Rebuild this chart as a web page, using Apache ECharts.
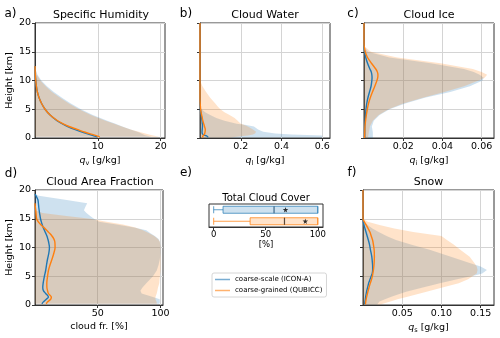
<!DOCTYPE html>
<html><head><meta charset="utf-8">
<script src="https://cdn.jsdelivr.net/npm/echarts@6/dist/echarts.min.js"></script>
<style>html,body{margin:0;padding:0;background:#fff}#c{width:500px;height:338px}</style>
</head><body><div id="c"></div>
<script>
// ---------- data ----------
const nameIcon = 'coarse-scale (ICON-A)';
const nameQub = 'coarse-grained (QUBICC)';
const titles = ['Specific Humidity', 'Cloud Water', 'Cloud Ice', 'Cloud Area Fraction', 'Snow'];
const letters = ['a)', 'b)', 'c)', 'd)', 'f)', 'e)'];

const heightTicks = [0, 5, 10, 15, 20];
const qvTicks = [10, 20];
const qlTicks = [0.2, 0.4, 0.6];
const qiTicks = [0.02, 0.04, 0.06];
const cfTicks = [50, 100];
const qsTicks = [0.05, 0.10, 0.15];
const tccTicks = [0, 50, 100];

// a) specific humidity [g/kg]
const qvHeight   = [0.2, 0.5, 1, 1.5, 2, 2.5, 3, 4, 5, 6, 7, 8, 9, 10, 11, 12, 12.5];
const qvMeanIcon = [9.9, 9.0, 7.6, 6.3, 5.2, 4.3, 3.5, 2.4, 1.6, 1.05, 0.65, 0.38, 0.22, 0.12, 0.05, 0.02, 0];
const qvMeanQub  = [10.3, 9.5, 8.0, 6.7, 5.4, 4.4, 3.6, 2.4, 1.6, 1.05, 0.65, 0.38, 0.22, 0.12, 0.05, 0.02, 0];
const qvMaxIcon  = [18.5, 17.5, 16.5, 15.2, 13.9, 12.8, 11.5, 9.2, 7.3, 5.7, 4.3, 3.0, 1.9, 1.0, 0.4, 0.08, 0];
const qvMaxQub   = [19.8, 18.6, 16.8, 15.2, 13.8, 12.6, 11.2, 8.9, 7.0, 5.4, 4.0, 2.7, 1.7, 0.85, 0.3, 0.05, 0];

// b) cloud water [g/kg]
const qlHeight   = [0.1, 0.3, 0.45, 0.6, 0.8, 1.1, 1.5, 2, 2.3, 2.5, 3, 3.5, 4, 4.5, 5, 5.5, 6, 7, 8, 9, 10, 11, 20];
const qlMeanIcon = [0.04, 0.035, 0.025, 0.015, 0.011, 0.01, 0.011, 0.012, 0.012, 0.011, 0.01, 0.008, 0.006, 0.004, 0.002, 0.001, 0.0005, 0, 0, 0, 0, 0, 0];
const qlMeanQub  = [0.012, 0.014, 0.016, 0.02, 0.023, 0.025, 0.026, 0.022, 0.02, 0.018, 0.014, 0.011, 0.008, 0.005, 0.003, 0.002, 0.001, 0, 0, 0, 0, 0, 0];
const qlMaxIcon  = [0.60, 0.60, 0.60, 0.45, 0.37, 0.31, 0.285, 0.265, 0.22, 0.18, 0.12, 0.08, 0.05, 0.025, 0.008, 0, 0, 0, 0, 0, 0, 0, 0];
const qlMaxQub   = [0.15, 0.2, 0.235, 0.26, 0.27, 0.275, 0.26, 0.235, 0.215, 0.2, 0.185, 0.17, 0.145, 0.12, 0.1, 0.087, 0.075, 0.05, 0.03, 0.012, 0, 0, 0];

// c) cloud ice [g/kg]
const qiHeight   = [0, 1, 2, 3, 4, 5, 6, 7, 8, 9, 10, 10.5, 11, 11.5, 12, 13, 14, 15, 16, 17, 20];
const qiMeanIcon = [0.0004, 0.0004, 0.0004, 0.0006, 0.0008, 0.001, 0.0014, 0.002, 0.0028, 0.0036, 0.004, 0.0041, 0.004, 0.0037, 0.003, 0.0018, 0.0009, 0.0003, 0, 0, 0];
const qiMeanQub  = [0.0003, 0.0004, 0.0005, 0.0008, 0.0012, 0.0017, 0.0023, 0.0032, 0.0043, 0.0055, 0.0066, 0.007, 0.0071, 0.0068, 0.006, 0.0038, 0.0018, 0.0006, 0.0001, 0, 0];
const qiMaxIcon  = [0.0045, 0.0045, 0.004, 0.005, 0.008, 0.013, 0.021, 0.031, 0.044, 0.054, 0.0605, 0.061, 0.059, 0.056, 0.051, 0.034, 0.013, 0.002, 0, 0, 0];
const qiMaxQub   = [0.002, 0.0025, 0.003, 0.0045, 0.0075, 0.0125, 0.02, 0.03, 0.041, 0.051, 0.0585, 0.0615, 0.0628, 0.06, 0.0555, 0.039, 0.017, 0.0035, 0, 0, 0];

// d) cloud area fraction [%]
const cfHeight   = [0.2, 0.5, 1, 1.4, 2, 2.5, 3, 3.8, 5, 6, 7, 8, 9, 10, 11, 11.5, 12, 12.5, 13, 13.5, 14, 14.5, 15, 15.5, 16, 16.5, 17, 17.7, 18.3, 19, 19.3];
const cfMeanIcon = [5.5, 6.5, 9, 10.7, 8.5, 6.7, 6.2, 6.5, 7.5, 8.5, 9.2, 10, 11, 11.5, 10.8, 10.2, 9.5, 8.5, 7.5, 6.5, 5.7, 5, 4.4, 4, 3.6, 3.3, 3, 2.7, 2.3, 0.8, 0];
const cfMeanQub  = [9, 9.8, 12.5, 13, 10.7, 10, 9.5, 9.4, 10, 10.7, 12, 13.6, 15, 16, 15.8, 15, 13.5, 11.5, 9.3, 7, 4.5, 2.5, 1.3, 1, 0.8, 0.6, 0.3, 0, null, null, null];
const cfMaxIcon  = [99, 99.5, 99.4, 94, 85, 84, 85.5, 88.7, 94, 97, 98.5, 99.5, 100, 100, 99.5, 98.5, 95.5, 92, 88.7, 79, 65, 51, 47, 44, 41, 39, 40, 41.6, 24, 3, 0];
const cfMaxQub   = [97, 97, 96, 96, 97, 97.5, 98, 99, 99.5, 100, 100, 100, 100, 100, 99.5, 98, 95, 91, 86, 80, 70, 57, 44, 25, 6, 0, 0, 0, 0, 0, 0];

// f) snow [g/kg]
const qsHeight   = [0.1, 0.6, 1, 1.5, 2.3, 3, 3.8, 4.5, 5.2, 5.5, 6.1, 6.7, 7.3, 8.4, 9.6, 10.5, 11.3, 12, 12.7, 13.3, 13.9, 14.5, 15, 20];
const qsMeanIcon = [0.002, 0.0025, 0.003, 0.0035, 0.0045, 0.0058, 0.0072, 0.009, 0.011, 0.0118, 0.0123, 0.0123, 0.012, 0.0112, 0.0095, 0.0083, 0.0068, 0.0053, 0.0038, 0.0025, 0.0013, 0.0004, 0, 0];
const qsMeanQub  = [0.003, 0.0035, 0.004, 0.0048, 0.0062, 0.0076, 0.0093, 0.011, 0.0122, 0.0126, 0.0133, 0.0138, 0.0142, 0.0145, 0.0142, 0.0133, 0.0122, 0.0105, 0.0088, 0.0065, 0.0042, 0.0015, 0, 0];
const qsMaxIcon  = [0.018, 0.021, 0.028, 0.037, 0.055, 0.075, 0.098, 0.12, 0.145, 0.152, 0.158, 0.15, 0.136, 0.112, 0.085, 0.062, 0.042, 0.03, 0.02, 0.012, 0.006, 0.002, 0, 0];
const qsMaxQub   = [0.022, 0.035, 0.044, 0.058, 0.081, 0.1, 0.122, 0.134, 0.142, 0.145, 0.146, 0.145, 0.142, 0.136, 0.124, 0.116, 0.107, 0.1, 0.064, 0.04, 0.021, 0.006, 0, 0];

// e) total cloud cover [%]: [min, q1, median, q3, max]
const tccCats = ['ICON-A', 'QUBICC'];
const tccIcon = [0, 9, 58, 100, 100];
const tccQub  = [0, 35, 68, 100, 100];
const tccMean = [69, 88];

// ---------- styling ----------
const FONT = 'DejaVu Sans';
const AX = '#333';
const GRIDC = '#d4d4d4';
const BLUE = '#1f77b4', ORANGE = '#ff7f0e';
const BLUE_F = 'rgba(31,119,180,0.22)', ORANGE_F = 'rgba(255,127,14,0.22)';

const panels = [
  {h: qvHeight, mi: qvMeanIcon, mq: qvMeanQub, xi: qvMaxIcon, xq: qvMaxQub, max: 20.68, iv: 10, ticks: qvTicks, dec: 0, name: '{q|q}{s|v} [g/kg]', grid: {left: 35, top: 23, width: 130, height: 115}, ylab: true},
  {h: qlHeight, mi: qlMeanIcon, mq: qlMeanQub, xi: qlMaxIcon, xq: qlMaxQub, max: 0.638, iv: 0.2, ticks: qlTicks, dec: 1, name: '{q|q}{s|l} [g/kg]', grid: {left: 200, top: 23, width: 130, height: 115}, ylab: false},
  {h: qiHeight, mi: qiMeanIcon, mq: qiMeanQub, xi: qiMaxIcon, xq: qiMaxQub, max: 0.0663, iv: 0.02, ticks: qiTicks, dec: 2, name: '{q|q}{s|i} [g/kg]', grid: {left: 364, top: 23, width: 130, height: 115}, ylab: false},
  {h: cfHeight, mi: cfMeanIcon, mq: cfMeanQub, xi: cfMaxIcon, xq: cfMaxQub, max: 102, iv: 50, ticks: cfTicks, dec: 0, name: 'cloud fr. [%]', grid: {left: 35, top: 190, width: 128, height: 115}, ylab: true},
  {h: qsHeight, mi: qsMeanIcon, mq: qsMeanQub, xi: qsMaxIcon, xq: qsMaxQub, max: 0.167, iv: 0.05, ticks: qsTicks, dec: 2, name: '{q|q}{s|s} [g/kg]', grid: {left: 363, top: 190, width: 131, height: 115}, ylab: false}
];

const zip = (xs, hs) => xs.map((v, i) => [v, hs[i]]).filter(d => d[0] !== null);
const nameStyle = {
  fontSize: 9.5, fontFamily: FONT, color: '#000',
  rich: {
    q: {fontSize: 9.5, fontFamily: FONT, fontStyle: 'italic', color: '#000'},
    s: {fontSize: 6.5, fontFamily: FONT, color: '#000', padding: [5, 0, 0, 0]}
  }
};

const grids = [], xAxes = [], yAxes = [], series = [];

function bandSeries(gi, heights, upper, color) {
  return {
    type: 'custom', xAxisIndex: gi, yAxisIndex: gi, silent: true, z: 1, clip: true,
    data: [[0, 0]],
    renderItem: function (params, api) {
      const pts = [];
      for (let i = 0; i < heights.length; i++) pts.push(api.coord([upper[i], heights[i]]));
      for (let i = heights.length - 1; i >= 0; i--) pts.push(api.coord([0, heights[i]]));
      return {type: 'polygon', shape: {points: pts}, style: {fill: color}};
    }
  };
}

panels.forEach((p, gi) => {
  grids.push(Object.assign({show: true, borderColor: AX, borderWidth: 1, backgroundColor: 'transparent'}, p.grid));
  xAxes.push({
    type: 'value', gridIndex: gi, min: 0, max: p.max, interval: p.iv,
    axisLine: {show: true, onZero: false, lineStyle: {color: AX, width: 1}},
    axisTick: {show: true, length: 3, lineStyle: {color: AX}, customValues: p.ticks},
    axisLabel: {customValues: p.ticks, formatter: v => v.toFixed(p.dec), fontSize: 9.5, fontFamily: FONT, color: '#000', margin: 4},
    splitLine: {show: true, lineStyle: {color: GRIDC, width: 1}},
    name: p.name, nameLocation: 'middle', nameGap: 16.5, nameTextStyle: nameStyle
  });
  yAxes.push({
    type: 'value', gridIndex: gi, min: 0, max: 20, interval: 5,
    axisLine: {show: true, onZero: false, lineStyle: {color: AX, width: 1}},
    axisTick: {show: true, length: 3, lineStyle: {color: AX}, customValues: heightTicks},
    axisLabel: {show: p.ylab, customValues: heightTicks, fontSize: 9.5, fontFamily: FONT, color: '#000', margin: 4},
    splitLine: {show: true, lineStyle: {color: GRIDC, width: 1}},
    name: p.ylab ? 'Height [km]' : '', nameLocation: 'middle', nameGap: 19,
    nameTextStyle: {fontSize: 9.5, fontFamily: FONT, color: '#000'}
  });
  series.push(bandSeries(gi, p.h, p.xi, BLUE_F));
  series.push(bandSeries(gi, p.h, p.xq, ORANGE_F));
  series.push({type: 'line', name: nameIcon, xAxisIndex: gi, yAxisIndex: gi, data: zip(p.mi, p.h),
    showSymbol: false, symbol: 'none', smooth: 0.3, z: 3, lineStyle: {color: BLUE, width: 1.4}, itemStyle: {color: BLUE}});
  series.push({type: 'line', name: nameQub, xAxisIndex: gi, yAxisIndex: gi, data: zip(p.mq, p.h),
    showSymbol: false, symbol: 'none', smooth: 0.3, z: 4, lineStyle: {color: ORANGE, width: 1.4}, itemStyle: {color: ORANGE}});
});

// e) box plot panel
const ge = grids.length;
grids.push({show: true, borderColor: AX, borderWidth: 1, backgroundColor: 'transparent', left: 209, top: 204, width: 114, height: 23});
xAxes.push({
  type: 'value', gridIndex: ge, min: -4.5, max: 105,
  axisLine: {show: true, onZero: false, lineStyle: {color: AX}},
  axisTick: {show: true, length: 3, lineStyle: {color: AX}, customValues: tccTicks},
  axisLabel: {customValues: tccTicks, fontSize: 8.5, fontFamily: FONT, color: '#000', margin: 3},
  splitLine: {show: false},
  name: '[%]', nameLocation: 'middle', nameGap: 12, nameTextStyle: {fontSize: 8.5, fontFamily: FONT, color: '#000'}
});
yAxes.push({
  type: 'category', gridIndex: ge, data: tccCats, inverse: true,
  axisLine: {show: false, onZero: false}, axisTick: {show: false}, axisLabel: {show: false}, splitLine: {show: false}
});
series.push({
  type: 'boxplot', xAxisIndex: ge, yAxisIndex: ge, boxWidth: [7, 7], z: 2,
  data: [
    {value: tccIcon, itemStyle: {color: 'rgba(31,119,180,0.22)', borderColor: 'rgba(31,119,180,0.7)', borderWidth: 1}},
    {value: tccQub, itemStyle: {color: 'rgba(255,127,14,0.22)', borderColor: 'rgba(255,127,14,0.75)', borderWidth: 1}}
  ]
});
series.push({
  type: 'scatter', xAxisIndex: ge, yAxisIndex: ge, symbol: 'rect', symbolSize: [1.2, 7], z: 5, silent: true,
  data: [{value: [tccIcon[2], tccCats[0]], itemStyle: {color: '#5a7287'}}, {value: [tccQub[2], tccCats[1]], itemStyle: {color: '#333'}}]
});
series.push({
  type: 'scatter', xAxisIndex: ge, yAxisIndex: ge, z: 6, silent: true,
  symbol: 'path://M50,0 L61,35 L98,35 L68,57 L79,91 L50,70 L21,91 L32,57 L2,35 L39,35 Z', symbolSize: 5.5,
  itemStyle: {color: '#000'},
  data: [[tccMean[0], tccCats[0]], [tccMean[1], tccCats[1]]]
});

// texts
const graphics = [];
function txt(x, y, s, size) {
  graphics.push({type: 'text', x: x, y: y, silent: true,
    style: {text: s, fontSize: size, fontFamily: FONT, fill: '#000', align: 'center', verticalAlign: 'middle', textAlign: 'center', textVerticalAlign: 'middle'}});
}
txt(101, 15, titles[0], 11);
txt(265, 15, titles[1], 11);
txt(429, 15, titles[2], 11);
txt(100, 182, titles[3], 11);
txt(428.5, 182, titles[4], 11);
txt(266, 198, 'Total Cloud Cover', 10);
txt(10.5, 14, letters[0], 12);
txt(186, 14, letters[1], 12);
txt(353, 14, letters[2], 12);
txt(11, 174, letters[3], 12);
txt(352, 173, letters[4], 12);
txt(186, 173, letters[5], 12);

const option = {
  animation: false,
  backgroundColor: '#fff',
  grid: grids, xAxis: xAxes, yAxis: yAxes, series: series,
  graphic: graphics,
  legend: {
    left: 212, top: 273, orient: 'vertical', icon: 'rect', itemWidth: 15, itemHeight: 1.5, itemGap: 2,
    padding: [2, 4, 2, 3], borderColor: '#cccccc', borderWidth: 0.8, borderRadius: 2, backgroundColor: '#fff',
    selectedMode: false,
    textStyle: {fontSize: 7, fontFamily: FONT, color: '#000', lineHeight: 9},
    data: [
      {name: nameIcon, itemStyle: {color: 'rgba(31,119,180,0.6)'}},
      {name: nameQub, itemStyle: {color: 'rgba(255,127,14,0.6)'}}
    ]
  }
};
const chart = echarts.init(document.getElementById('c'), null, {renderer: 'canvas'});
chart.setOption(option);
</script>
</body></html>
